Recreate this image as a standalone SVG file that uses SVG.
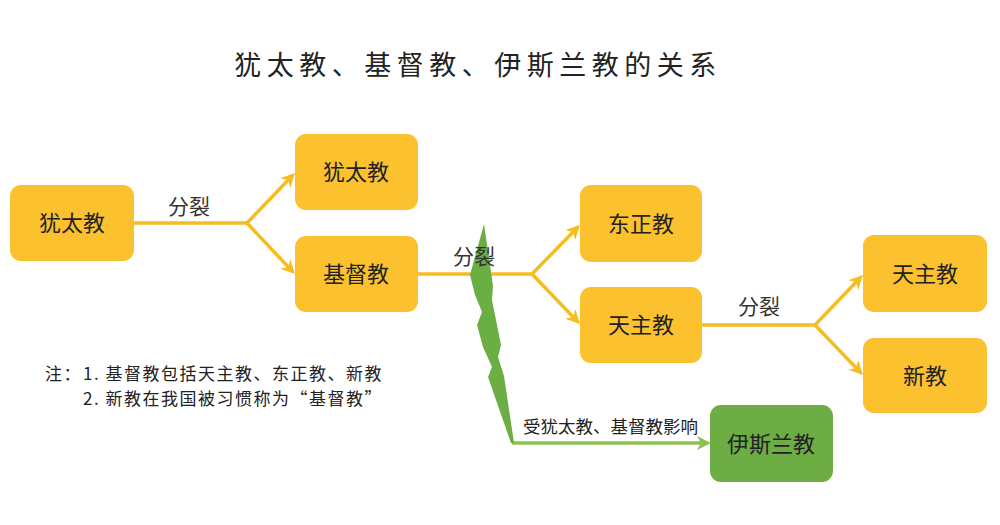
<svg xmlns="http://www.w3.org/2000/svg" width="1000" height="525" viewBox="0 0 1000 525">
<defs>
<style>
.box{fill:#FBC12F;}
.gbox{fill:#6EAC44;}
.t{font-family:"Noto Sans CJK SC","Noto Sans",sans-serif;fill:#222;}
.nt{font-size:22px;text-anchor:middle;}
.lbl{font-size:21px;fill:#333;}
.ln{fill:none;stroke:#F5BD1F;stroke-width:3.5;stroke-linejoin:round;}
.gln{fill:none;stroke:#8CC152;stroke-width:3.5;}
</style>
<marker id="ya" viewBox="0 0 10 10" refX="8" refY="5" markerWidth="4" markerHeight="4" orient="auto" markerUnits="strokeWidth">
<path d="M0,0 L10,5 L0,10 L3,5 Z" fill="#F5BD1F"/>
</marker>
<marker id="ga" viewBox="0 0 10 10" refX="8" refY="5" markerWidth="4" markerHeight="4" orient="auto" markerUnits="strokeWidth">
<path d="M0,0 L10,5 L0,10 L3,5 Z" fill="#8CC152"/>
</marker>
</defs>
<rect width="1000" height="525" fill="#fff"/>
<text class="t" x="478" y="75" font-size="27" text-anchor="middle" letter-spacing="5.5" fill="#111">犹太教、基督教、伊斯兰教的关系</text>

<g id="connectors">
<path class="ln" d="M134,223 H247"/>
<path class="ln" d="M247,223 L293,175" marker-end="url(#ya)"/>
<path class="ln" d="M247,223 L293,272" marker-end="url(#ya)"/>
<path class="ln" d="M418,274 H532"/>
<path class="ln" d="M532,274 L578,227" marker-end="url(#ya)"/>
<path class="ln" d="M532,274 L578,322" marker-end="url(#ya)"/>
<path class="ln" d="M702,325 H815"/>
<path class="ln" d="M815,325 L861,277" marker-end="url(#ya)"/>
<path class="ln" d="M815,325 L861,373" marker-end="url(#ya)"/>
<path class="gln" d="M512,443 H708" marker-end="url(#ga)"/>
<polygon fill="#6BAE44" points="484,224 489,258 493,286 492,300 501,345 498,357 504,376 514,443 511,443 488,377 492,367 483,347 477,325 482,312 475,295 470,275"/>
<text class="t lbl" x="168" y="214">分裂</text>
<text class="t lbl" x="453" y="264">分裂</text>
<text class="t lbl" x="738" y="314">分裂</text>
<text class="t" x="523" y="433" font-size="17.5" fill="#333">受犹太教、基督教影响</text>
</g>

<g id="n1"><rect class="box" x="10" y="185" width="124" height="76" rx="11"/><text class="t nt" x="72" y="231">犹太教</text></g>
<g id="n2"><rect class="box" x="295" y="134" width="123" height="76" rx="11"/><text class="t nt" x="356" y="180">犹太教</text></g>
<g id="n3"><rect class="box" x="295" y="236" width="123" height="76" rx="11"/><text class="t nt" x="356" y="282">基督教</text></g>
<g id="n4"><rect class="box" x="580" y="185" width="122" height="77" rx="11"/><text class="t nt" x="641" y="232">东正教</text></g>
<g id="n5"><rect class="box" x="580" y="287" width="122" height="76" rx="11"/><text class="t nt" x="641" y="333">天主教</text></g>
<g id="n6"><rect class="box" x="863" y="235" width="124" height="77" rx="11"/><text class="t nt" x="925" y="282">天主教</text></g>
<g id="n7"><rect class="box" x="863" y="338" width="124" height="75" rx="11"/><text class="t nt" x="925" y="384">新教</text></g>
<g id="n8"><rect class="gbox" x="710" y="405" width="123" height="77" rx="11"/><text class="t nt" x="771" y="452">伊斯兰教</text></g>

<g id="note" class="t" font-size="17" fill="#333" letter-spacing="1.5">
<text x="45" y="380">注：<tspan x="83">1. 基督教包括天主教、东正教、新教</tspan></text>
<text x="83" y="405">2. 新教在我国被习惯称为“基督教”</text>
</g>
</svg>
